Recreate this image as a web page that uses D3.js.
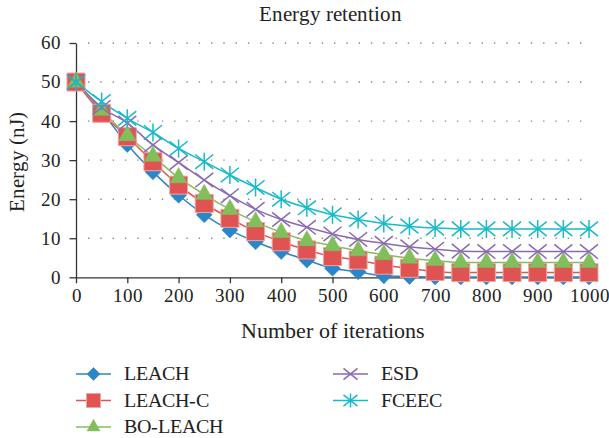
<!DOCTYPE html>
<html>
<head>
<meta charset="utf-8">
<script src="https://cdn.jsdelivr.net/npm/d3@7"></script>
<style>
  @font-face { font-family: "ChartSerif"; src: local("Liberation Serif"), local("LiberationSerif"), local("Times New Roman"); }
</style>
</head>
<body style="margin:0">
<svg id="chart" width="609" height="438" font-family="ChartSerif, 'Liberation Serif', Tinos, serif"></svg>
<script>
// iterations (every 50)
const iterations = [0, 50, 100, 150, 200, 250, 300, 350, 400, 450, 500,
  550, 600, 650, 700, 750, 800, 850, 900, 950, 1000];
const xTicks = [0, 100, 200, 300, 400, 500, 600, 700, 800, 900, 1000];
const yTicks = [0, 10, 20, 30, 40, 50, 60];

const leach = [50, 42.5, 34, 27, 21, 16, 12.1, 9.1, 6.6, 4.4, 2.3,
  1.4, 0.4, 0.2, 0.1, 0.1, 0.1, 0.1, 0.1, 0.1, 0.1];
const leachC = [50, 42, 36, 29.6, 23.6, 18.9, 15.1, 11.7, 9.1, 7, 5.3,
  4.4, 3.1, 2.3, 1.5, 1.2, 1.2, 1.2, 1.2, 1.2, 1.2];
const boLeach = [50, 42.8, 36.3, 31, 25.5, 21.2, 17.4, 14.2, 11.5, 9.4, 8.1,
  6.8, 5.8, 4.9, 4.3, 3.8, 3.8, 3.8, 3.8, 3.8, 3.8];
const esd = [50, 43.5, 39.5, 33.9, 29.4, 24.9, 20.9, 17.4, 14.8, 12.8, 11.1,
  9.7, 8.7, 7.8, 7.2, 6.7, 6.6, 6.6, 6.6, 6.6, 6.6];
const fceec = [50, 45, 40.7, 37.1, 33, 29.6, 26.2, 23, 20, 17.8, 16,
  14.8, 13.8, 13.1, 12.6, 12.4, 12.4, 12.4, 12.4, 12.4, 12.4];

const seriesNames = ["LEACH", "LEACH-C", "BO-LEACH", "ESD", "FCEEC"];
const seriesValues = [leach, leachC, boLeach, esd, fceec];
const colors = ["#2a86c8", "#e05353", "#82bf5c", "#8a69b5", "#19b9cc"];
const markers = ["diamond", "square", "triangle", "cross", "star"];

const FONT = "ChartSerif, 'Liberation Serif', Tinos, serif";
const svg = d3.select("#chart");

const xScale = d3.scaleLinear().domain([0, 1000]).range([76, 589]);
const yScale = d3.scaleLinear().domain([0, 60]).range([277.3, 43]);

// marker shapes, r = half size
function markerPath(type, r) {
  const p = d3.path();
  if (type === "diamond") {
    p.moveTo(0, -r); p.lineTo(r, 0); p.lineTo(0, r); p.lineTo(-r, 0); p.closePath();
  } else if (type === "square") {
    p.rect(-r, -r, 2 * r, 2 * r);
  } else if (type === "triangle") {
    const h = r * 1.8;
    p.moveTo(0, -h * 2 / 3); p.lineTo(r, h / 3); p.lineTo(-r, h / 3); p.closePath();
  } else if (type === "cross") {
    p.moveTo(-r, -r * 0.8); p.lineTo(r, r * 0.8);
    p.moveTo(-r, r * 0.8); p.lineTo(r, -r * 0.8);
  } else {
    p.moveTo(-r, -r * 0.8); p.lineTo(r, r * 0.8);
    p.moveTo(-r, r * 0.8); p.lineTo(r, -r * 0.8);
    p.moveTo(0, -r); p.lineTo(0, r);
  }
  return p.toString();
}
function styleMarker(sel, i) {
  const filled = markers[i] === "diamond" || markers[i] === "square" || markers[i] === "triangle";
  sel.attr("fill", filled ? colors[i] : "none")
    .attr("stroke", filled ? (markers[i] === "square" ? "#f1a3a3" : colors[i]) : colors[i])
    .attr("stroke-width", filled ? (markers[i] === "square" ? 1 : 0.5) : 1.5);
}
const plotSize = [8, 9, 8.5, 9, 9];
const legendSize = [6.5, 7, 6.5, 7, 7];

// titles first
svg.append("text")
  .attr("x", 330).attr("y", 21)
  .attr("text-anchor", "middle")
  .attr("fill", "#222")
  .attr("font-family", FONT)
  .attr("font-size", 21)
  .text("Energy retention");
svg.append("text")
  .attr("x", 333).attr("y", 338)
  .attr("text-anchor", "middle")
  .attr("fill", "#222")
  .attr("font-family", FONT)
  .attr("font-size", 21.5)
  .text("Number of iterations");
svg.append("text")
  .attr("transform", "translate(24,162) rotate(-90)")
  .attr("text-anchor", "middle")
  .attr("fill", "#222")
  .attr("font-family", FONT)
  .attr("font-size", 21)
  .text("Energy (nJ)");

// grid
svg.append("g")
  .selectAll("line")
  .data(yTicks.slice(1))
  .join("line")
  .attr("x1", 88).attr("x2", 584)
  .attr("y1", d => yScale(d)).attr("y2", d => yScale(d))
  .attr("stroke", "#8a8a8a")
  .attr("stroke-width", 1.4)
  .attr("stroke-dasharray", "1.4,10.9");

// axes
const xAxis = svg.append("g")
  .attr("transform", `translate(0,${yScale(0)})`)
  .call(d3.axisBottom(xScale).tickValues(xTicks).tickFormat(d3.format("d"))
    .tickSize(6).tickSizeOuter(0).tickPadding(6));
const yAxis = svg.append("g")
  .attr("transform", `translate(${xScale(0)},0)`)
  .call(d3.axisLeft(yScale).tickValues(yTicks).tickSize(6.5).tickSizeOuter(0).tickPadding(9));
[xAxis, yAxis].forEach(a => {
  a.attr("font-family", FONT).attr("font-size", 18.5);
  a.selectAll("path, line").attr("stroke", "#333").attr("stroke-width", 1.3);
  a.selectAll("text").attr("fill", "#222");
});

// lines + markers
const lineGen = d3.line()
  .x((d, j) => xScale(iterations[j]))
  .y(d => yScale(d))
  .curve(d3.curveMonotoneX);

seriesValues.forEach((vals, i) => {
  svg.append("path")
    .datum(vals)
    .attr("fill", "none")
    .attr("stroke", colors[i])
    .attr("stroke-width", 1.5)
    .attr("d", lineGen);
});
seriesValues.forEach((vals, i) => {
  svg.append("g")
    .selectAll("path")
    .data(vals)
    .join("path")
    .attr("transform", (d, j) => `translate(${xScale(iterations[j])},${yScale(d)})`)
    .attr("d", markerPath(markers[i], plotSize[i]))
    .call(styleMarker, i);
});

// legend
const legendPos = [[76, 374], [76, 400.5], [76, 427], [333, 374], [333, 400.5]];
seriesNames.forEach((name, i) => {
  const [lx, ly] = legendPos[i];
  const g = svg.append("g").attr("transform", `translate(${lx},${ly})`);
  g.append("line").attr("x1", 0).attr("x2", 35)
    .attr("stroke", colors[i]).attr("stroke-width", 1.5);
  g.append("path")
    .attr("transform", "translate(17.5,0)")
    .attr("d", markerPath(markers[i], legendSize[i]))
    .call(styleMarker, i);
  g.append("text")
    .attr("x", 48).attr("y", 6)
    .attr("fill", "#222")
    .attr("font-family", FONT)
    .attr("font-size", 19.5)
    .text(name);
});
</script>
</body>
</html>
